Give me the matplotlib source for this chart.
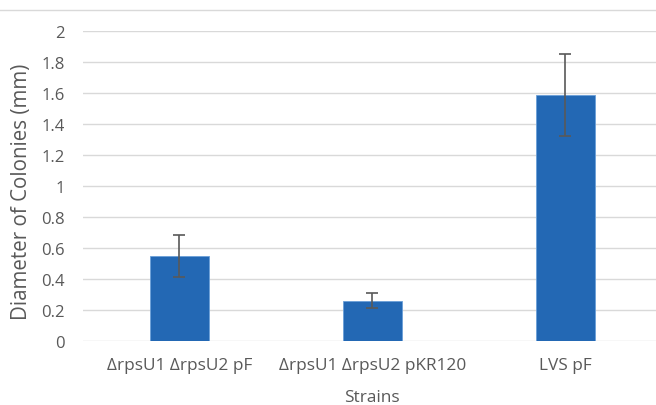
import matplotlib.pyplot as plt
import matplotlib.lines as mlines
import numpy as np

# colony diameters
strains = ['ΔrpsU1 ΔrpsU2 pF', 'ΔrpsU1 ΔrpsU2 pKR120', 'LVS pF']
diameter = [0.545, 0.257, 1.585]
err = [0.137, 0.048, 0.262]
yticks = [0, 0.2, 0.4, 0.6, 0.8, 1, 1.2, 1.4, 1.6, 1.8, 2]
ytick_labels = ['0', '0.2', '0.4', '0.6', '0.8', '1', '1.2', '1.4', '1.6', '1.8', '2']

plt.rcParams['font.family'] = ['Open Sans', 'DejaVu Sans']
grey = '#595959'

W, H = 656, 406
fig = plt.figure(figsize=(6.56, 4.06), dpi=100)
ax = fig.add_axes([83 / W, 64.3 / H, 579 / W, 310 / H])

x = np.arange(len(strains))
ax.bar(x, diameter, width=0.31, color='#2368B4', edgecolor='#6A9FD8', linewidth=0.6, zorder=3)
ax.errorbar(x, diameter, yerr=err, fmt='none', ecolor=grey, elinewidth=1.2,
            capsize=4, capthick=1.2, zorder=4)

ax.set_xlim(-0.5, 2.5)
ax.set_ylim(0, 2)
ax.set_yticks(yticks)
ax.set_yticklabels(ytick_labels)
ax.set_xticks(x)
ax.set_xticklabels(strains)
ax.tick_params(axis='y', length=0, colors=grey, labelsize=12, pad=13)
ax.tick_params(axis='x', length=0, colors=grey, labelsize=12.4, pad=12)
ax.yaxis.grid(True, color='#D9D9D9', linewidth=1.0, zorder=0)
for s in ax.spines.values():
    s.set_visible(False)

# axis titles placed where the reference has them
fig.text(22 / W, 1 - 191.5 / H, 'Diameter of Colonies (mm)', rotation=90,
         ha='center', va='center', color=grey, fontsize=14.8)
fig.text(372 / W, 1 - 402 / H, 'Strains', ha='center', va='baseline',
         color=grey, fontsize=12.4)

# chart border line along the top
fig.add_artist(mlines.Line2D([0, 1], [1 - 10.7 / H, 1 - 10.7 / H],
                             transform=fig.transFigure, color='#D9D9D9', linewidth=1.0))

plt.savefig('out.png', dpi=100)
